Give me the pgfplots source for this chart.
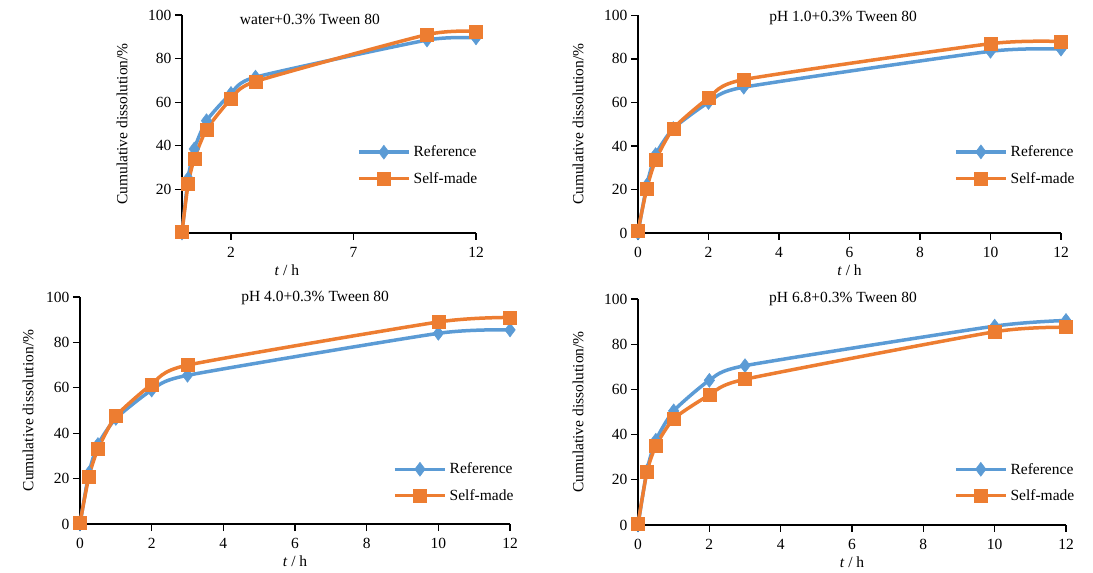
\documentclass[border=0pt]{standalone}
\usepackage{fontspec}
\setmainfont{Liberation Serif}
\usepackage{pgfplots}
\pgfplotsset{compat=1.18}
\definecolor{refblue}{HTML}{5B9BD5}
\definecolor{selforange}{HTML}{ED7D31}

\pgfplotsset{
  panel/.style={
    scale only axis,
    axis x line=bottom, axis y line=left,
    axis line style={-, line width=1.2pt},
    tick align=outside, major tick length=7pt,
    tick style={line width=1.2pt, black},
    /pgf/number format/assume math mode=true,
    xmin=0, xmax=12, ymin=0, ymax=100,
    xtick={0,2,...,12}, ytick={0,20,...,100},
    xticklabel style={yshift=-4pt},
    clip=false,
    every axis title shift=0pt,
    xlabel={\textit{t} / h},
    ylabel={Cumulative dissolution/\%},
    xlabel style={at={(axis description cs:0.5,0)}, anchor=center, yshift=-37pt},
    ylabel style={at={(axis description cs:0,0.5)}, anchor=center, yshift=60pt},
    legend style={draw=none, fill=none, inner sep=0pt, anchor=west,
      legend cell align=left, row sep=8pt,
      nodes={inner sep=3pt}},
    legend image code/.code={
      \draw[#1, mark repeat=2, mark phase=2]
        plot coordinates {(0pt,0pt) (25pt,0pt) (50pt,0pt)};},
  },
  refline/.style={refblue, line width=3.5pt, smooth, tension=0.35, mark=diamond*,
    mark size=7pt, mark options={solid, fill=refblue, line width=0.5pt}},
  selfline/.style={selforange, line width=3.5pt, smooth, tension=0.35, mark=square*,
    mark size=6.5pt, mark options={solid, fill=selforange, line width=0.5pt}},
}

\begin{document}
\begin{tikzpicture}[font=\fontsize{15.5}{18}\selectfont]
\useasboundingbox (0,0) rectangle (1093pt,573pt);

% water
\begin{axis}[panel, at={(182pt,340pt)}, anchor=south west,
    width=294pt, height=218pt,
    xtick={2,7,12}, ytick={20,40,...,100},
    xlabel style={at={(axis description cs:0.357,0)}},
    title={water+0.3\% Tween 80},
    title style={at={(axis description cs:0.435,0.98)}, anchor=center},
    legend style={at={(axis description cs:0.595,0.31)}}]
  \addplot[refline] coordinates {(0,0)(0.25,25)(0.5,38.5)(1,51.5)(2,64)(3,71.5)(10,88.5)(12,89.5)};
  \addplot[selfline] coordinates {(0,0.5)(0.25,22.5)(0.5,34)(1,47.5)(2,61.5)(3,69.5)(10,91)(12,92.5)};
  \legend{Reference, Self-made}
\end{axis}

% pH 1.0
\begin{axis}[panel, at={(638pt,340pt)}, anchor=south west,
    width=423pt, height=217.6pt,
    title={pH 1.0+0.3\% Tween 80},
    title style={at={(axis description cs:0.485,0.988)}, anchor=center},
    legend style={at={(axis description cs:0.747,0.312)}}]
  \addplot[refline] coordinates {(0,0)(0.25,22)(0.5,36)(1,48)(2,60)(3,67)(10,83.5)(12,84.5)};
  \addplot[selfline] coordinates {(0,1)(0.25,20.5)(0.5,33.5)(1,48)(2,62)(3,70.5)(10,87)(12,88)};
  \legend{Reference, Self-made}
\end{axis}

% pH 4.0
\begin{axis}[panel, at={(80pt,49pt)}, anchor=south west,
    width=430pt, height=227pt,
    ylabel style={yshift=-8pt},
    title={pH 4.0+0.3\% Tween 80},
    title style={at={(axis description cs:0.547,0.996)}, anchor=center},
    legend style={at={(axis description cs:0.728,0.183)}}]
  \addplot[refline] coordinates {(0,0)(0.25,22.5)(0.5,35)(1,46.5)(2,59)(3,65.5)(10,84)(12,85.5)};
  \addplot[selfline] coordinates {(0,0.5)(0.25,21)(0.5,33)(1,47.5)(2,61.5)(3,70)(10,89)(12,91)};
  \legend{Reference, Self-made}
\end{axis}

% pH 6.8
\begin{axis}[panel, at={(638pt,48pt)}, anchor=south west,
    width=428pt, height=226pt,
    title={pH 6.8+0.3\% Tween 80},
    title style={at={(axis description cs:0.479,1.0)}, anchor=center},
    legend style={at={(axis description cs:0.738,0.188)}}]
  \addplot[refline] coordinates {(0,0)(0.25,24)(0.5,37.5)(1,50.5)(2,64)(3,70.5)(10,88)(12,90.5)};
  \addplot[selfline] coordinates {(0,0.5)(0.25,23.5)(0.5,35)(1,47)(2,57.5)(3,64.5)(10,85.5)(12,87.5)};
  \legend{Reference, Self-made}
\end{axis}
\end{tikzpicture}
\end{document}
